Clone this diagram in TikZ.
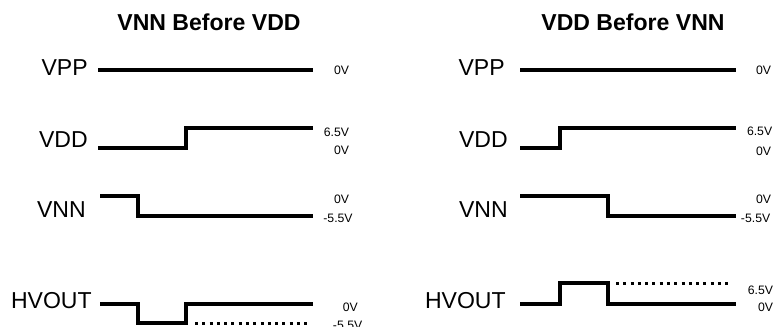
\documentclass[tikz,border=0pt]{standalone}
\usepackage{fontspec}
\setmainfont{Liberation Sans}
\tikzset{
    wave/.style={line width=0.1cm},
    floatline/.style={line width=0.075cm, dash pattern=on 0.075cm off 0.107cm},
    signame/.style={anchor=east, inner sep=0pt, font=\fontsize{16.4}{19}\selectfont},
    volt/.style={inner sep=0pt, font=\fontsize{8.7}{10}\selectfont},
    heading/.style={inner sep=0pt, font=\bfseries\fontsize{16.4}{19}\selectfont}
}
\begin{document}
\begin{tikzpicture}
    \useasboundingbox (0,0) rectangle (19.575,-8.175);
    \node[heading] (t0) at (5.225,-0.55) {VNN Before VDD};
    \node[heading] (t1) at (15.825,-0.55) {VDD Before VNN};

    \node[signame] (vpp0) at (2.2,-1.7) {VPP};
    \node[signame] (vdd0) at (2.2,-3.48) {VDD};
    \node[signame] (vnn0) at (2.15,-5.25) {VNN};
    \node[signame] (hv0) at (2.3,-7.51) {HVOUT};
    \draw[wave] (2.45,-1.75) -- (7.825,-1.75);
    \draw[wave] (2.45,-3.69) -- (4.65,-3.69) -- (4.65,-3.19) -- (7.825,-3.19);
    \draw[wave] (2.5,-4.89) -- (3.45,-4.89) -- (3.45,-5.4) -- (7.825,-5.4);
    \draw[wave] (2.5,-7.59) -- (3.45,-7.59) -- (3.45,-8.08) -- (4.65,-8.08) -- (4.65,-7.59) -- (7.825,-7.59);
    \draw[floatline] (4.875,-8.08) -- (7.7,-8.08);
    \node[volt] (a1) at (8.54,-1.76) {0V};
    \node[volt] (a2) at (8.41,-3.3) {6.5V};
    \node[volt] (a3) at (8.54,-3.76) {0V};
    \node[volt] (a4) at (8.54,-4.99) {0V};
    \node[volt] (a5) at (8.45,-5.45) {-5.5V};
    \node[volt] (a6) at (8.76,-7.69) {0V};
    \node[volt] (a7) at (8.69,-8.14) {-5.5V};

    \node[signame] (vpp1) at (12.625,-1.7) {VPP};
    \node[signame] (vdd1) at (12.7,-3.48) {VDD};
    \node[signame] (vnn1) at (12.7,-5.25) {VNN};
    \node[signame] (hv1) at (12.65,-7.51) {HVOUT};
    \draw[wave] (13.0,-1.75) -- (18.4,-1.75);
    \draw[wave] (13.0,-3.69) -- (14.0,-3.69) -- (14.0,-3.19) -- (18.4,-3.19);
    \draw[wave] (13.0,-4.89) -- (15.2,-4.89) -- (15.2,-5.4) -- (18.4,-5.4);
    \draw[wave] (13.0,-7.6) -- (14.0,-7.6) -- (14.0,-7.08) -- (15.2,-7.08) -- (15.2,-7.6) -- (18.4,-7.6);
    \draw[floatline] (15.4,-7.08) -- (18.225,-7.08);
    \node[volt] (b1) at (19.09,-1.75) {0V};
    \node[volt] (b2) at (18.99,-3.28) {6.5V};
    \node[volt] (b3) at (19.09,-3.78) {0V};
    \node[volt] (b4) at (19.09,-4.99) {0V};
    \node[volt] (b5) at (18.89,-5.45) {-5.5V};
    \node[volt] (b6) at (19.01,-7.25) {6.5V};
    \node[volt] (b7) at (19.14,-7.68) {0V};
\end{tikzpicture}
\end{document}
